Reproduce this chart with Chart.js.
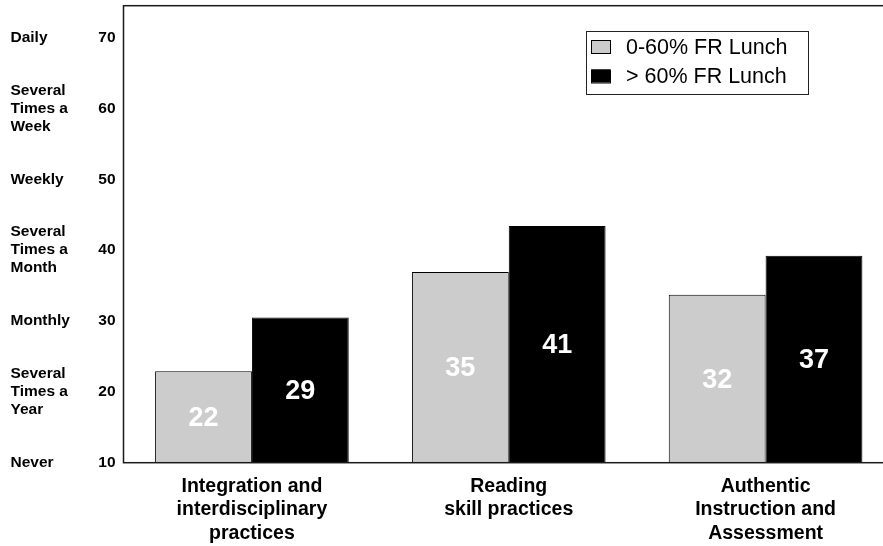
<!DOCTYPE html>
<html>
<head>
<meta charset="utf-8">
<script src="https://cdn.jsdelivr.net/npm/chart.js@4.4.1/dist/chart.umd.min.js"></script>
<style>
  html, body { margin: 0; padding: 0; background: #fff; overflow: hidden; }
  /* the plot runs a little past the right edge of the window, as in the original */
  #wrap { width: 894px; height: 546px; }
</style>
</head>
<body>
<div id="wrap"><canvas id="chart"></canvas></div>
<script>
// categories (x axis)
const categories = [
    ['Integration and', 'interdisciplinary', 'practices'],
    ['Reading', 'skill practices'],
    ['Authentic', 'Instruction and', 'Assessment']
];
const seriesNames = ['0-60% FR Lunch', '> 60% FR Lunch'];

// bar heights
const lowFR = [22.9, 36.9, 33.7];
const highFR = [30.5, 43.4, 39.2];

// numbers printed inside the bars
const lowFRLabels = [22, 35, 32];
const highFRLabels = [29, 41, 37];

// y axis
const yTicks = [10, 20, 30, 40, 50, 60, 70];
const freqLabels = [
    'Never',
    ['Several', 'Times a', 'Year'],
    'Monthly',
    ['Several', 'Times a', 'Month'],
    'Weekly',
    ['Several', 'Times a', 'Week'],
    'Daily'
];
const yMin = 10;
const yMax = 74.5;

const FONT = "'Liberation Sans', Arial, sans-serif";

// frame around the plot area
const framePlugin = {
    id: 'frame',
    afterDatasetsDraw(chart) {
        const a = chart.chartArea;
        const ctx = chart.ctx;
        ctx.save();
        ctx.strokeStyle = '#1a1a1a';
        ctx.lineWidth = 1.5;
        ctx.strokeRect(a.left, a.top, a.right - a.left, a.bottom - a.top);
        ctx.restore();
    }
};

// white numbers in the middle of the visible part of each bar
const barLabelPlugin = {
    id: 'barLabels',
    afterDatasetsDraw(chart) {
        const ctx = chart.ctx;
        const printed = [lowFRLabels, highFRLabels];
        const bottom = chart.scales.y.getPixelForValue(yMin);
        ctx.save();
        ctx.fillStyle = '#ffffff';
        ctx.font = 'bold 27px ' + FONT;
        ctx.textAlign = 'center';
        ctx.textBaseline = 'middle';
        chart.data.datasets.forEach((ds, i) => {
            chart.getDatasetMeta(i).data.forEach((bar, j) => {
                const p = bar.getProps(['x', 'y'], true);
                ctx.fillText(String(printed[i][j]), p.x, (p.y + bottom) / 2 + 1.5);
            });
        });
        ctx.restore();
    }
};

// boxed legend inside the plot
const legendBoxPlugin = {
    id: 'legendBox',
    afterDraw(chart) {
        const ctx = chart.ctx;
        const x = 586, y = 31, w = 222, h = 63;
        ctx.save();
        ctx.fillStyle = '#fff';
        ctx.fillRect(x, y, w, h);
        ctx.strokeStyle = '#222';
        ctx.lineWidth = 1;
        ctx.strokeRect(x + 0.5, y + 0.5, w, h);
        ctx.font = '21.5px ' + FONT;
        ctx.textBaseline = 'middle';
        ctx.textAlign = 'left';
        chart.data.datasets.forEach((ds, i) => {
            const cy = 47 + i * 29.5;
            ctx.fillStyle = ds.backgroundColor;
            ctx.fillRect(591, cy - 7, 19, 13);
            ctx.strokeStyle = '#000';
            ctx.strokeRect(591.5, cy - 6.5, 19, 13);
            ctx.fillStyle = '#000';
            ctx.fillText(ds.label, 626, cy + 1);
        });
        ctx.restore();
    }
};

new Chart(document.getElementById('chart'), {
    type: 'bar',
    data: {
        labels: categories,
        datasets: [
            {
                label: seriesNames[0],
                data: lowFR,
                backgroundColor: '#cccccc',
                borderColor: '#000000',
                borderWidth: 1,
                yAxisID: 'y'
            },
            {
                label: seriesNames[1],
                data: highFR,
                backgroundColor: '#000000',
                borderColor: '#000000',
                borderWidth: 1,
                yAxisID: 'y'
            }
        ]
    },
    options: {
        responsive: true,
        maintainAspectRatio: false,
        animation: false,
        categoryPercentage: 0.754,
        barPercentage: 1.0,
        layout: { padding: { left: 10.5, top: 5.7, right: 0, bottom: 0 } },
        plugins: {
            legend: { display: false },
            tooltip: { enabled: false }
        },
        scales: {
            x: {
                grid: { display: false, drawTicks: false },
                border: { display: false },
                afterFit: (s) => { s.height = 83.3; },
                ticks: {
                    color: '#000',
                    padding: 12,
                    maxRotation: 0,
                    autoSkip: false,
                    font: { family: FONT, size: 19.5, weight: 'bold', lineHeight: '23.5px' }
                }
            },
            y: {
                position: 'left',
                weight: 0,
                min: yMin,
                max: yMax,
                grid: { display: false, drawTicks: false },
                border: { display: false },
                afterBuildTicks: (s) => { s.ticks = yTicks.map(v => ({ value: v })); },
                afterFit: (s) => { s.width = 30; s.paddingTop = 0; s.paddingBottom = 0; },
                ticks: {
                    color: '#000',
                    padding: 8,
                    font: { family: FONT, size: 15.5, weight: 'bold' }
                }
            },
            yText: {
                position: 'left',
                weight: 1,
                min: yMin,
                max: yMax,
                grid: { display: false, drawTicks: false },
                border: { display: false },
                afterBuildTicks: (s) => { s.ticks = yTicks.map(v => ({ value: v })); },
                afterFit: (s) => { s.width = 83; s.paddingTop = 0; s.paddingBottom = 0; },
                ticks: {
                    color: '#000',
                    crossAlign: 'far',
                    padding: 0,
                    font: { family: FONT, size: 15.5, weight: 'bold', lineHeight: '18px' },
                    callback: (v) => freqLabels[yTicks.indexOf(v)]
                }
            }
        }
    },
    plugins: [framePlugin, barLabelPlugin, legendBoxPlugin]
});
</script>
</body>
</html>
